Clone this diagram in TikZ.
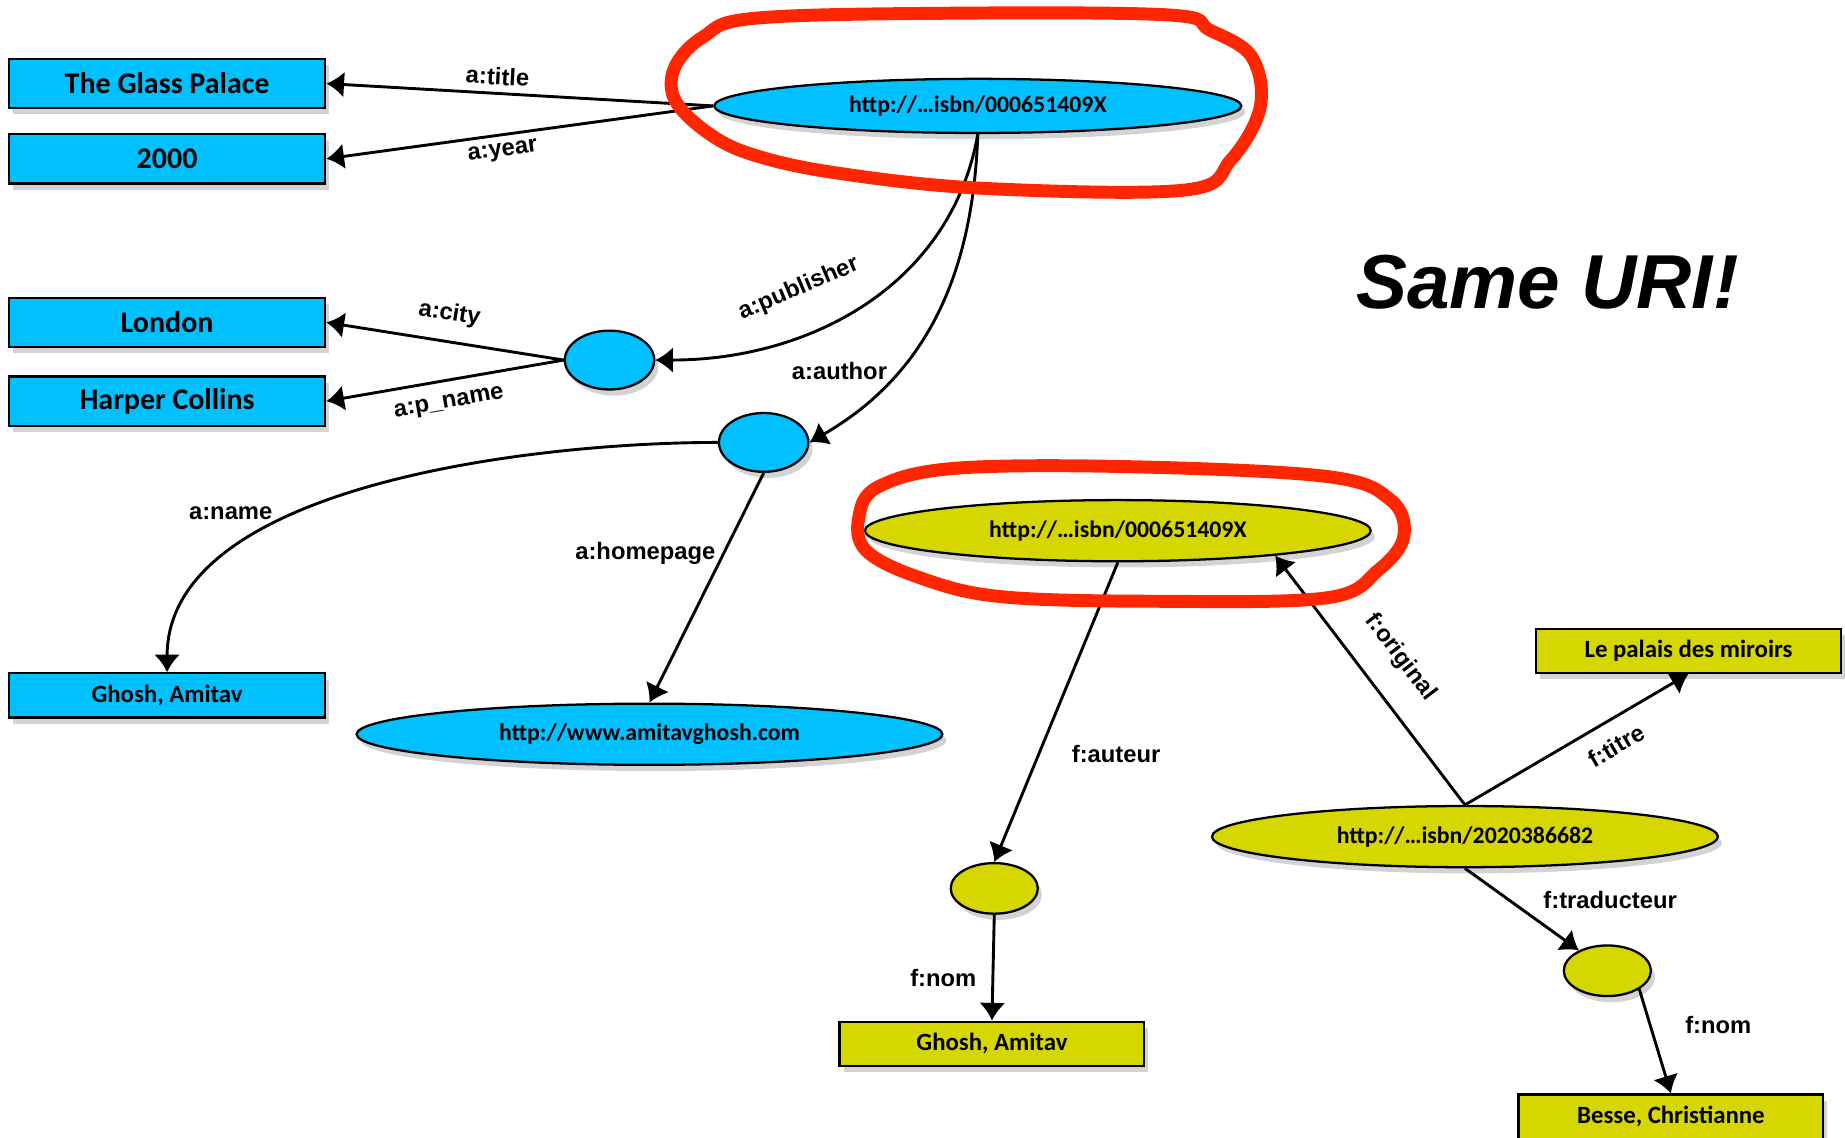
\documentclass[tikz,border=0pt]{standalone}
\usepackage{fontspec}
\setmainfont{Carlito}
\newfontfamily\labelfont{Liberation Sans}
\usetikzlibrary{shapes,arrows.meta,positioning,shadows}
\definecolor{rdfblue}{RGB}{0,192,255}
\definecolor{rdfyellow}{RGB}{214,214,0}
\definecolor{markred}{RGB}{255,38,0}
\tikzstyle{softshadow} = [drop shadow={shadow xshift=2pt, shadow yshift=-3pt, opacity=.35}]
\tikzstyle{litbig} = [rectangle, draw=black, line width=1.1pt, minimum width=5.38cm, minimum height=0.84cm, font=\bfseries\fontsize{14.5}{16}\selectfont, softshadow]
\tikzstyle{lit} = [rectangle, draw=black, line width=1.1pt, minimum width=5.18cm, minimum height=0.75cm, font=\bfseries\fontsize{12}{14}\selectfont, softshadow]
\tikzstyle{uri} = [ellipse, draw=black, line width=1.1pt, inner sep=0pt, font=\bfseries\fontsize{11.5}{13}\selectfont, softshadow]
\tikzstyle{blank} = [ellipse, draw=black, line width=1.1pt, inner sep=0pt, minimum width=1.52cm, minimum height=1cm, softshadow]
\tikzstyle{edgelabel} = [font=\labelfont\bfseries\fontsize{11.5}{13}\selectfont]
\tikzstyle{arrow} = [line width=1.4pt, -{Latex[length=8.5pt,width=12.5pt]}]
\tikzstyle{redmark} = [draw=markred, line width=0.22cm, line join=round]

\begin{document}
\begin{tikzpicture}[x=0.02cm, y=0.02cm]
	\useasboundingbox (0,0) rectangle (1568,-967);
	% first graph
	\node[litbig, fill=rdfblue] (glass) at (142,-71) {The Glass Palace};
	\node[litbig, fill=rdfblue, below=0.4cm of glass] (year) {2000};
	\node[litbig, fill=rdfblue] (london) at (142,-274) {London};
	\node[litbig, fill=rdfblue, below=0.46cm of london] (harper) {Harper Collins};
	\node[lit, fill=rdfblue, minimum width=5.38cm] (ghoshA) at (142,-591) {Ghosh, Amitav};
	\node[uri, fill=rdfblue, minimum width=8.96cm, minimum height=0.92cm] (isbnA) at (831,-90) {http://…isbn/000651409X};
	\node[blank, fill=rdfblue] (pub) at (518,-306) {};
	\node[blank, fill=rdfblue] (auth) at (649,-376) {};
	\node[uri, fill=rdfblue, minimum width=9.96cm, minimum height=1.04cm] (home) at (552,-624) {http://www.amitavghosh.com};
	% second graph
	\node[uri, fill=rdfyellow, minimum width=8.6cm, minimum height=1.04cm] (isbnB) at (950,-451) {http://…isbn/000651409X};
	\node[uri, fill=rdfyellow, minimum width=8.6cm, minimum height=1.04cm] (isbnF) at (1245,-711) {http://…isbn/2020386682};
	\node[lit, fill=rdfyellow] (palais) at (1435,-553) {Le palais des miroirs};
	\node[blank, fill=rdfyellow, minimum width=1.48cm, minimum height=0.86cm] (aut) at (845,-755) {};
	\node[lit, fill=rdfyellow] (ghoshF) at (843,-887) {Ghosh, Amitav};
	\node[blank, fill=rdfyellow, minimum width=1.48cm, minimum height=0.86cm] (trad) at (1366,-825) {};
	\node[lit, fill=rdfyellow] (besse) at (1420,-949) {Besse, Christianne};
	\node (same) at (1315,-240) {\labelfont\bfseries\itshape\fontsize{37}{40}\selectfont Same URI!};

	\draw[arrow] (isbnA.west) -- node[edgelabel, sloped, above, pos=.56] {a:title} (glass.east);
	\draw[arrow] (isbnA.west) -- node[edgelabel, sloped, below, pos=.55] {a:year} (year.east);
	\draw[arrow] (isbnA.south) to[out=-100, in=0] node[edgelabel, sloped, above=12pt, pos=.63] {a:publisher} (pub.east);
	\draw[arrow] (isbnA.south) to[out=-92, in=30] node[edgelabel, pos=.7, left=1pt] {a:author} (auth.east);
	\draw[arrow] (pub.west) -- node[edgelabel, sloped, above=4pt, pos=.5] {a:city} (london.east);
	\draw[arrow] (pub.west) -- node[edgelabel, sloped, below=3pt, pos=.5] {a:p\_name} (harper.east);
	\draw[arrow] (auth.west) to[out=180, in=90, looseness=.8] node[edgelabel, pos=.65, above left=-2pt] {a:name} (ghoshA.north);
	\draw[arrow] (auth.south) -- node[edgelabel, left, pos=.35] {a:homepage} (home.north);

	\draw[arrow] (isbnB.south) -- node[edgelabel, right=12pt, pos=.64] {f:auteur} (aut.north);
	\draw[arrow] (aut.south) -- node[edgelabel, left=4pt, pos=.6] {f:nom} (ghoshF.north);
	\draw[arrow] (isbnF.north) -- node[edgelabel, sloped, above=9pt, pos=.5] {f:original} (isbnB.-9);
	\draw[arrow] (isbnF.north) -- node[edgelabel, sloped, below=4pt, pos=.62] {f:titre} (palais.south);
	\draw[arrow] (isbnF.south) -- node[edgelabel, right=13pt, pos=.38] {f:traducteur} (trad);
	\draw[arrow] (trad.-30) -- node[edgelabel, right=13pt, pos=.34] {f:nom} (besse.north);

	% same URI marks
	\draw[redmark] plot[smooth cycle, tension=.6] coordinates {(573.6,-56.7) (573.6,-85) (601.8,-113) (640.5,-131.7) (711,-147) (834.5,-160) (1007,-161.5) (1046,-136) (1071,-91) (1063.6,-48) (1028,-25.5) (993,-12.7) (799,-11.3) (640.5,-15.6) (598,-31)};
	\draw[redmark] plot[smooth cycle, tension=.6] coordinates {(730,-439) (735.6,-467.4) (779,-490) (850,-507) (986,-511) (1128,-508) (1171.5,-484.4) (1193,-456) (1182,-425) (1128,-405) (959,-396.6) (811.6,-398) (746.6,-413.6)};
\end{tikzpicture}
\end{document}
